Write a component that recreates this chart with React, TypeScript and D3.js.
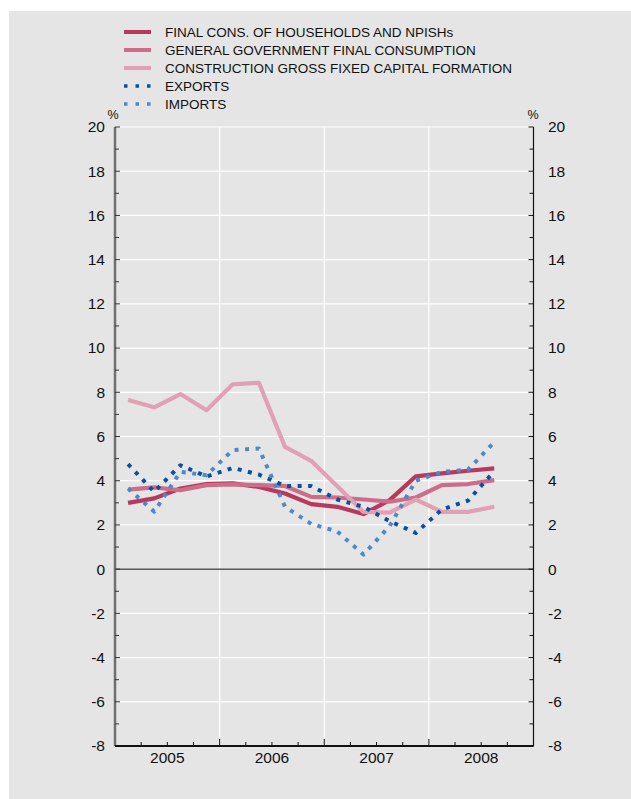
import { useMemo } from "react";
import * as d3 from "d3";

const years = ["2005", "2006", "2007", "2008"];
const yTicks = [20, 18, 16, 14, 12, 10, 8, 6, 4, 2, 0, -2, -4, -6, -8];

const households = [3.0, 3.2, 3.65, 3.85, 3.88, 3.72, 3.42, 2.94, 2.82, 2.49, 3.12, 4.2, 4.33, 4.45, 4.56];
const government = [3.6, 3.7, 3.57, 3.8, 3.83, 3.8, 3.76, 3.27, 3.24, 3.15, 3.05, 3.24, 3.8, 3.85, 4.03];
const construction = [7.65, 7.32, 7.92, 7.19, 8.36, 8.43, 5.53, 4.9, 3.75, 2.59, 2.56, 3.15, 2.59, 2.59, 2.82];
const exportsData = [4.75, 3.5, 4.7, 4.19, 4.58, 4.28, 3.76, 3.76, 3.15, 2.82, 2.17, 1.64, 2.7, 3.1, 4.43];
const imports = [3.65, 2.6, 4.4, 4.25, 5.38, 5.46, 2.82, 2.05, 1.7, 0.66, 1.95, 4.0, 4.4, 4.5, 5.75];

const series = [
  { name: "FINAL CONS. OF HOUSEHOLDS AND NPISHs", values: households, color: "#b8395d", dotted: false },
  { name: "GENERAL GOVERNMENT FINAL CONSUMPTION", values: government, color: "#cc6e8a", dotted: false },
  { name: "CONSTRUCTION GROSS FIXED CAPITAL FORMATION", values: construction, color: "#e1a0b3", dotted: false },
  { name: "EXPORTS", values: exportsData, color: "#0c4f9e", dotted: true },
  { name: "IMPORTS", values: imports, color: "#4f88c7", dotted: true },
];

const W = 631;
const H = 799;
const plot = { left: 115, right: 533.5, top: 127, bottom: 746 };
const font = "'Liberation Sans', Arial, Helvetica, sans-serif";

export default function App() {
  const x = useMemo(
    () => d3.scaleLinear().domain([0, 16]).range([plot.left, plot.right]),
    []
  );
  const y = useMemo(
    () => d3.scaleLinear().domain([-8, 20]).range([plot.bottom, plot.top]),
    []
  );
  const line = d3
    .line<number>()
    .x((_, i) => x(i + 0.5))
    .y((d) => y(d));

  const minorY = d3.range(-7, 20, 2);
  const quarters = d3.range(1, 16).filter((q) => q % 4 !== 0);
  const yearBounds = [4, 8, 12];

  return (
    <svg
      width={W}
      height={H}
      style={{ position: "absolute", left: 0, top: 0 }}
      fontFamily={font}
    >
      <rect x={0} y={0} width={W} height={H} fill="#ffffff" />
      <rect x={9} y={11} width={W - 9} height={H - 11} fill="#e5e5e5" />

      {/* grid */}
      {yTicks.map((t) => (
        <line key={`g${t}`} x1={plot.left} x2={plot.right} y1={y(t)} y2={y(t)} stroke="#ffffff" strokeWidth={1.2} />
      ))}
      {yearBounds.map((q) => (
        <line key={`v${q}`} x1={x(q)} x2={x(q)} y1={plot.top} y2={plot.bottom} stroke="#ffffff" strokeWidth={1.2} />
      ))}
      <line x1={plot.left} x2={plot.right} y1={y(0)} y2={y(0)} stroke="#000" strokeWidth={1} />

      {/* left axis */}
      <line x1={plot.left} x2={plot.left} y1={plot.top} y2={plot.bottom} stroke="#707070" strokeWidth={2.5} />
      {yTicks.map((t) => (
        <line key={`lt${t}`} x1={plot.left} x2={plot.left + 5} y1={y(t)} y2={y(t)} stroke="#333" strokeWidth={1} />
      ))}
      {minorY.map((t) => (
        <line key={`lm${t}`} x1={plot.left} x2={plot.left + 4} y1={y(t)} y2={y(t)} stroke="#333" strokeWidth={1} />
      ))}
      {yTicks.map((t) => (
        <text key={`ll${t}`} x={105} y={y(t)} dy="0.35em" textAnchor="end" fontSize={15.5} fill="#111">
          {t}
        </text>
      ))}
      <text x={113} y={119} textAnchor="middle" fontSize={12.5} fill="#111">%</text>

      {/* right axis */}
      <line x1={plot.right} x2={plot.right} y1={plot.top} y2={plot.bottom} stroke="#111" strokeWidth={1.2} />
      {yTicks.map((t) => (
        <line key={`rt${t}`} x1={plot.right - 5} x2={plot.right} y1={y(t)} y2={y(t)} stroke="#111" strokeWidth={1} />
      ))}
      {minorY.map((t) => (
        <line key={`rm${t}`} x1={plot.right - 4} x2={plot.right} y1={y(t)} y2={y(t)} stroke="#111" strokeWidth={1} />
      ))}
      {yTicks.map((t) => (
        <text key={`rl${t}`} x={548} y={y(t)} dy="0.35em" textAnchor="start" fontSize={15.5} fill="#111">
          {t}
        </text>
      ))}
      <text x={533} y={119} textAnchor="middle" fontSize={12.5} fill="#111">%</text>

      {/* x axis */}
      <line x1={plot.left} x2={plot.right} y1={plot.bottom} y2={plot.bottom} stroke="#111" strokeWidth={2} />
      {yearBounds.map((q) => (
        <line key={`xt${q}`} x1={x(q)} x2={x(q)} y1={plot.bottom} y2={plot.bottom - 7} stroke="#111" strokeWidth={1} />
      ))}
      {quarters.map((q) => (
        <line key={`xq${q}`} x1={x(q)} x2={x(q)} y1={plot.bottom} y2={plot.bottom - 4} stroke="#111" strokeWidth={1} />
      ))}
      {years.map((yr, i) => (
        <text key={yr} x={x(i * 4 + 2)} y={758} dy="0.35em" textAnchor="middle" fontSize={15.5} fill="#111">
          {yr}
        </text>
      ))}

      {/* series */}
      {series.map((s) => (
        <path
          key={s.name}
          d={line(s.values) ?? ""}
          fill="none"
          stroke={s.color}
          strokeWidth={s.dotted ? 4 : 4.2}
          strokeDasharray={s.dotted ? "4 6.5" : undefined}
          strokeLinejoin="round"
        />
      ))}

      {/* legend */}
      {series.map((s, i) => {
        const ly = 32 + i * 18;
        return (
          <g key={`lg${i}`}>
            <line
              x1={124}
              x2={151}
              y1={ly}
              y2={ly}
              stroke={s.color}
              strokeWidth={s.dotted ? 3.5 : 4}
              strokeDasharray={s.dotted ? "3.5 8" : undefined}
            />
            <text x={165} y={ly} dy="0.35em" fontSize={13.5} fill="#111">
              {s.name}
            </text>
          </g>
        );
      })}
    </svg>
  );
}
